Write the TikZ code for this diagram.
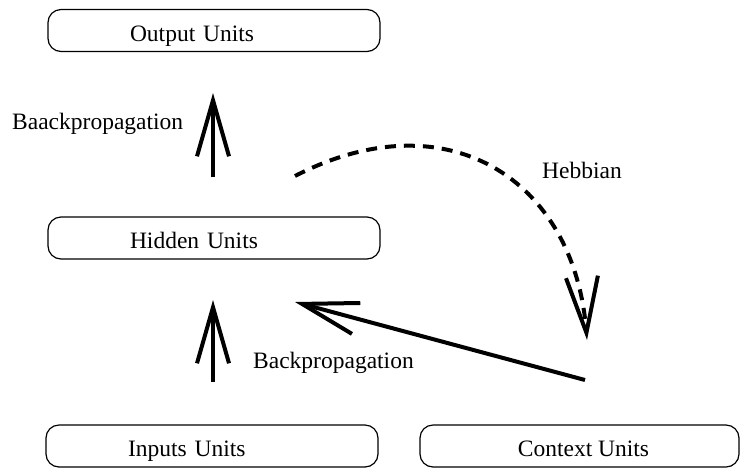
\documentclass[tikz,border=0pt]{standalone}
\usepackage{fontspec}
\setmainfont{Liberation Serif}
\usetikzlibrary{arrows.meta}
\begin{document}
\begin{tikzpicture}[x=1pt,y=-1pt,
  txt/.style={font=\fontsize{23.5}{28}\selectfont},
  unitbox/.style={txt, draw, line width=1.2pt, rounded corners=13pt,
    minimum height=42pt, inner ysep=0pt, text height=23pt, text depth=2pt},
  leftbox/.style={unitbox, inner xsep=82pt, text width=168pt, align=left},
  lbl/.style={txt, inner sep=0pt, anchor=west},
  flow/.style={line width=4pt, -{Straight Barb[length=56pt,width=32pt]}},
  hebb/.style={flow, dash pattern=on 11pt off 8pt}]
  \useasboundingbox (0,0) rectangle (741,467);

  % layers of the network
  \node[leftbox] (out) at (214,30.5) {Output Units};
  \node[leftbox] (hid) at (214,238) {Hidden Units};
  \node[leftbox] (inp) at (212,446) {Inputs Units};
  \node[unitbox, minimum width=319pt, inner xsep=0pt] (ctx) at (579.5,446)
    {\hspace*{8pt}Context Units};

  % arrow end points
  \coordinate (upTail) at (213,177);
  \coordinate (upHead) at (213,93);
  \coordinate (loTail) at (213,382);
  \coordinate (loHead) at (213,300);
  \coordinate (ctxTail) at (585,380);
  \coordinate (ctxHead) at (295,302);
  \coordinate (hebbTail) at (295,176);
  \coordinate (hebbHead) at (587,340);

  % learning signals
  \draw[flow] (upTail) -- (upHead);
  \draw[flow] (loTail) -- (loHead);
  \draw[flow] (ctxTail) -- (ctxHead);
  \draw[hebb] (hebbTail) .. controls (446,98) and (574,178) .. (hebbHead);

  % labels
  \node[lbl] (bpUp) at (12,124) {Baackpropagation};
  \node[lbl] (bpLo) at (253,363) {Backpropagation};
  \node[lbl] (hebbLbl) at (542,170) {Hebbian};
\end{tikzpicture}
\end{document}
